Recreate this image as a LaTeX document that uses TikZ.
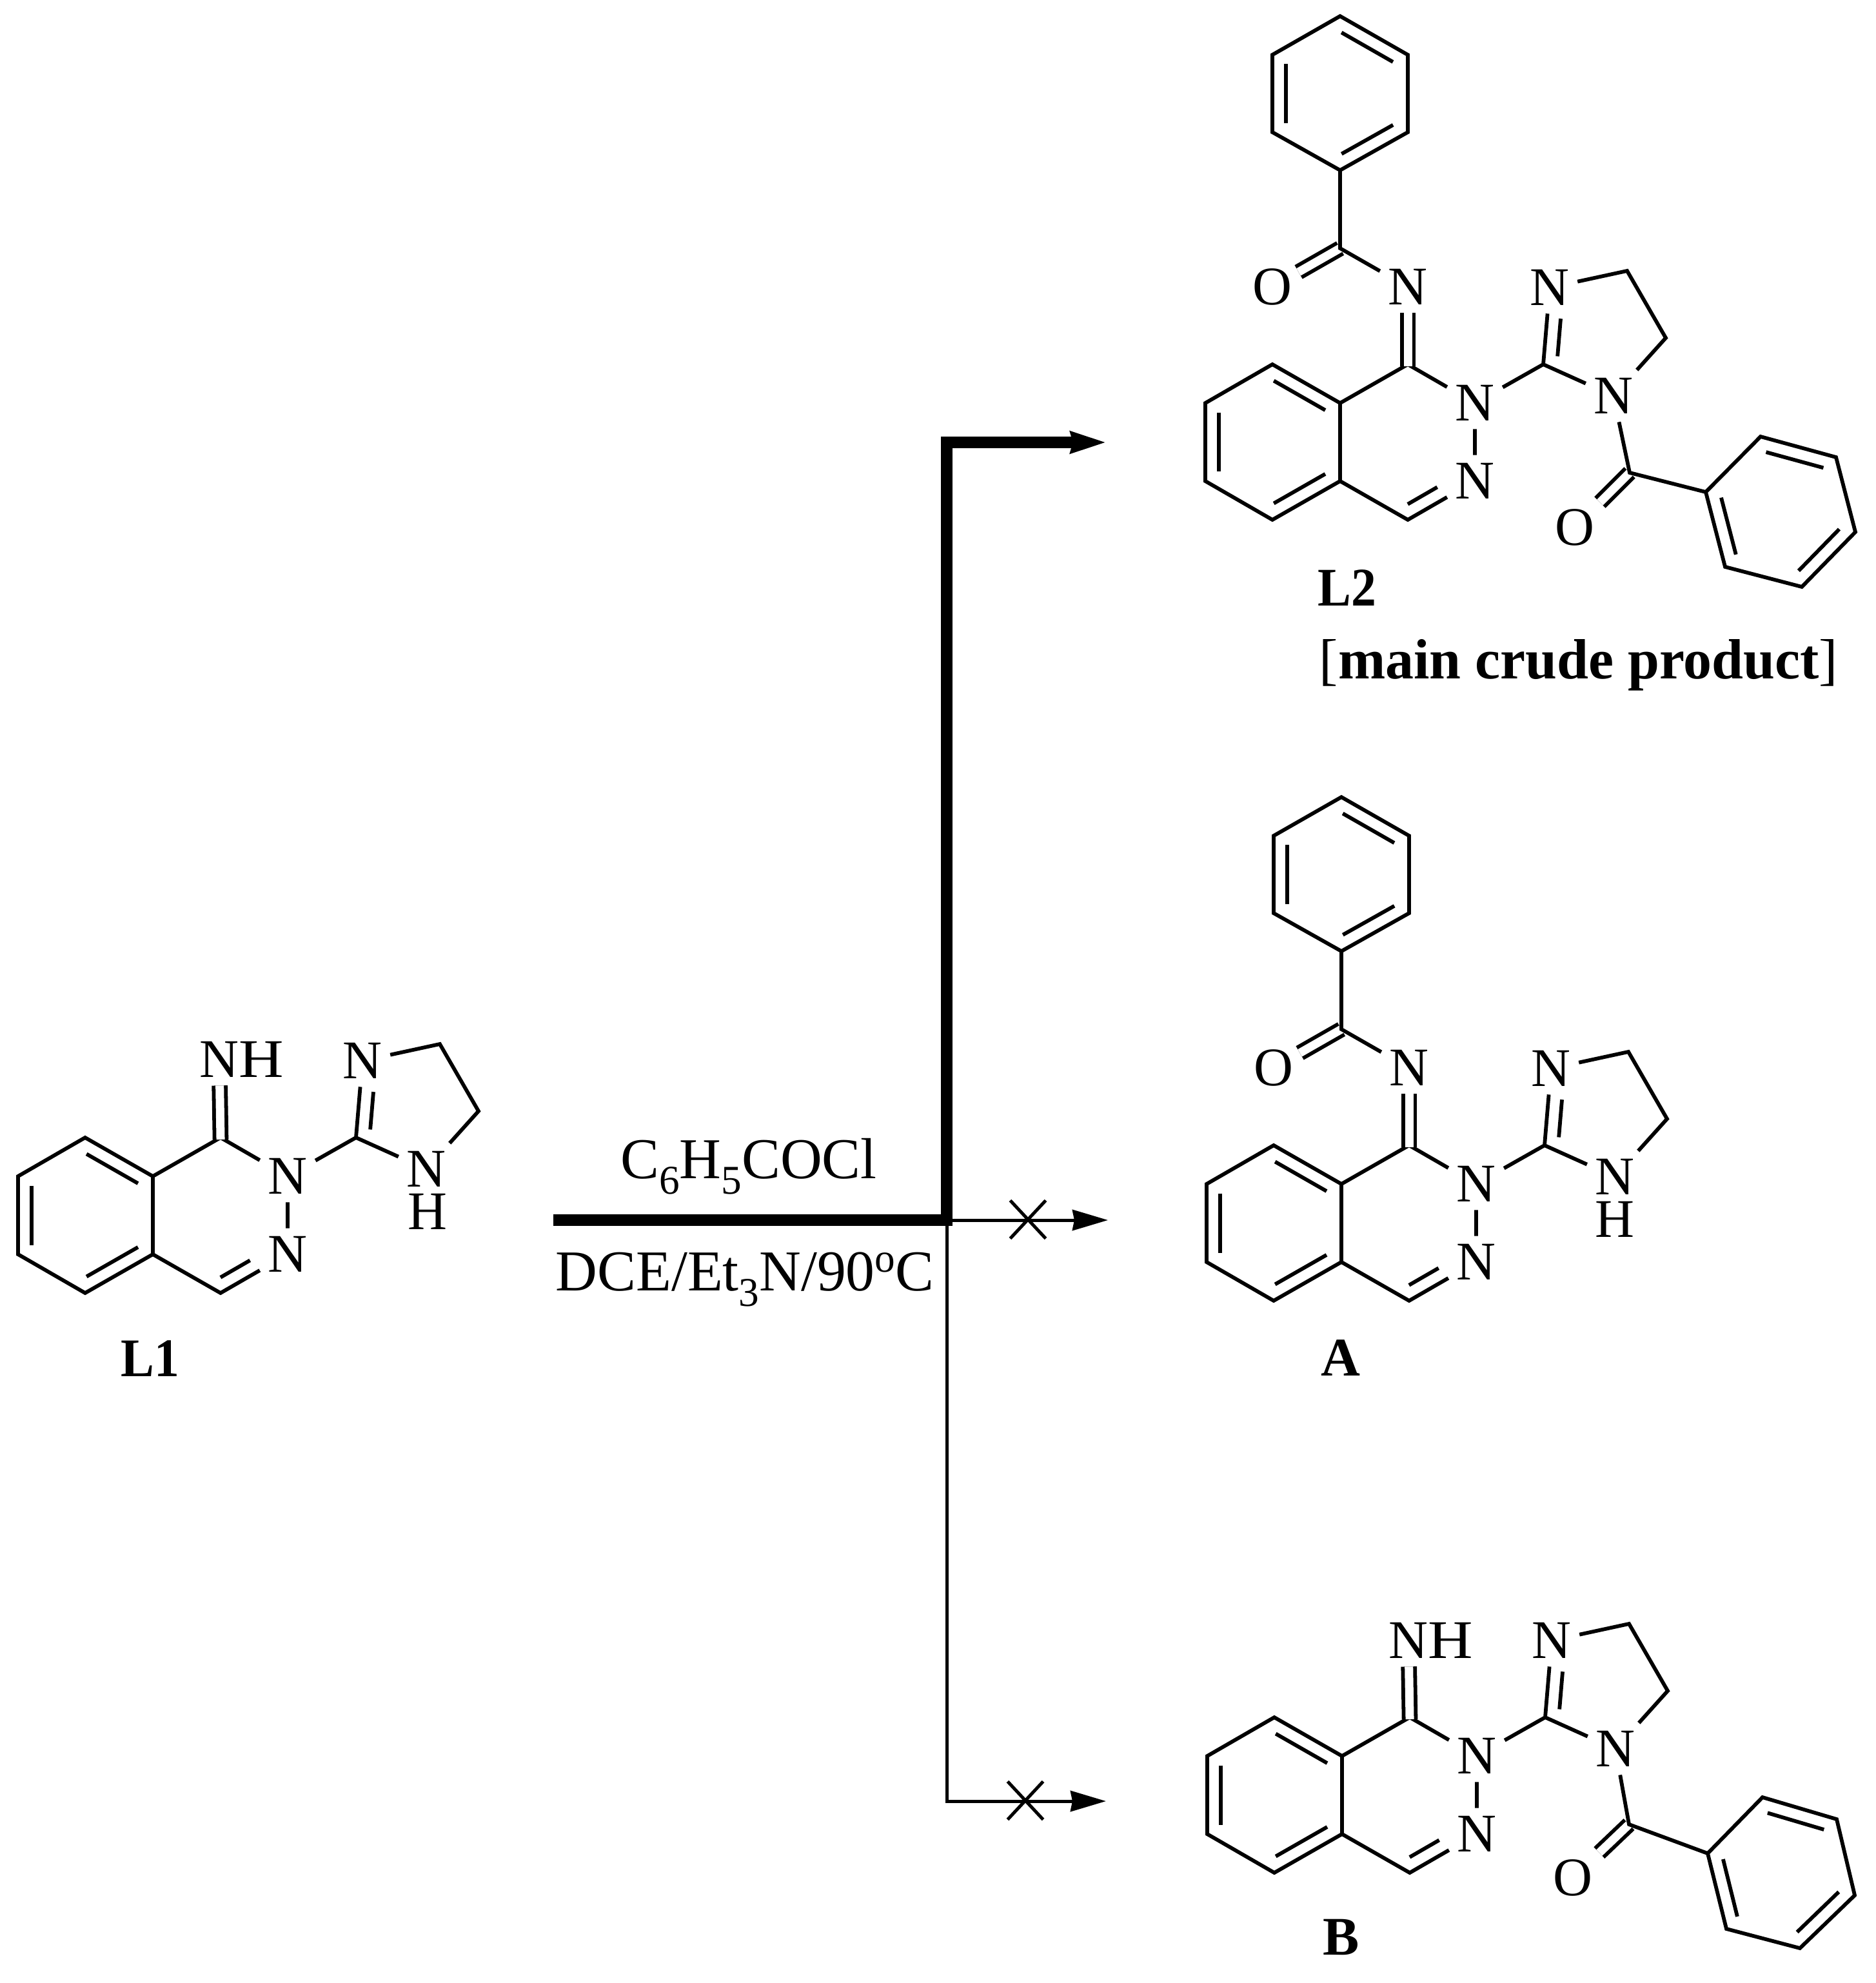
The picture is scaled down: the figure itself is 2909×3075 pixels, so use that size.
\documentclass[tikz,border=0pt]{standalone}
\usepackage{fontspec}
\setmainfont{Liberation Serif}
\usetikzlibrary{arrows.meta}
\usetikzlibrary{calc}
\usetikzlibrary{shapes.misc}

\tikzset{
  bond/.style={line width=0.058cm, line join=miter},
  dbl/.style={double, double distance=0.13cm, shorten >=-0.03cm},
  atom/.style={inner sep=0.12cm, font=\fontsize{24}{28}\selectfont},
  tag/.style={inner sep=0pt, font=\fontsize{24}{28}\selectfont\bfseries},
  reagent/.style={inner sep=0pt, anchor=base, font=\fontsize{25.5}{30}\selectfont},
  heavy/.style={line width=0.18cm},
  light/.style={line width=0.05cm},
  tipped/.style={-{Stealth[length=0.55cm, width=0.32cm, inset=0.03cm]}},
  nogo/.style={draw, cross out, line width=0.05cm, inner sep=0pt, minimum width=0.5cm, minimum height=0.54cm}
}

\begin{document}
\begin{tikzpicture}[x=0.01cm, y=-0.01cm]
      \def\inbond#1#2#3#4{\draw[bond] ($(#1)!#3!(#2)!0.21cm!90:(#2)$) -- ($(#1)!#4!(#2)!0.21cm!90:(#2)$);}

      \def\phenylring{
        \draw[bond] (p1) -- (p2) -- (p3) -- (p4) -- (p5) -- (p6) -- cycle;
        \inbond{p1}{p2}{.12}{.88}
        \inbond{p3}{p4}{.12}{.88}
        \inbond{p5}{p6}{.12}{.88}
      }

      \def\phthalcore{
        \coordinate (c1) at (0,0);
        \coordinate (s1) at (-105,60);
        \coordinate (s2) at (-210,0);
        \coordinate (s3) at (-314,60);
        \coordinate (s4) at (-314,181);
        \coordinate (s5) at (-210,241);
        \coordinate (s6) at (-105,181);
        \coordinate (c4) at (0,241);
        \coordinate (c9) at (210,0);
        \coordinate (ca) at (340,-145);
        \coordinate (cb) at (400,-41);
        \node[atom] (n2) at (104,60) {N};
        \node[atom] (n3) at (104,181) {N};
        \node[atom] (nb) at (220,-119) {N};
        \node[atom] (nc) at (319,49) {N};
        \draw[bond] (s1) -- (s2) -- (s3) -- (s4) -- (s5) -- (s6) -- cycle;
        \draw[bond] (s1) -- (c1) -- (n2) -- (n3);
        \draw[bond] (n3) -- (c4) -- (s6);
        \draw[bond] (n2) -- (c9) -- (nb) -- (ca) -- (cb) -- (nc) -- (c9);
        \inbond{s3}{s4}{.12}{.88}
        \inbond{s5}{s6}{.12}{.88}
        \inbond{s1}{s2}{.12}{.88}
        \inbond{c4}{n3}{.1}{.54}
        \inbond{nb}{c9}{.39}{.88}
      }

      \def\iminebenzoyl{
        \node[atom] (ni) at (0,-120) {N};
        \node[atom] (ox) at (-210,-120) {O};
        \coordinate (cq) at (-105,-180);
        \coordinate (p1) at (-105,-301);
        \coordinate (p2) at (0,-360);
        \coordinate (p3) at (0,-480);
        \coordinate (p4) at (-105,-540);
        \coordinate (p5) at (-210,-480);
        \coordinate (p6) at (-210,-360);
        \draw[bond,dbl] (ni) -- (c1);
        \draw[bond,dbl] (cq) -- (ox);
        \draw[bond] (ni) -- (cq) -- (p1);
        \phenylring
      }

      \useasboundingbox (0,0) rectangle (2909,3075);

      \begin{scope}[shift={(342,1764)}, name prefix=lone-]
        \phthalcore
        \node[atom] (ni) at (-2,-121) {N\rlap{\scalebox{1.14}[1]{H}}};
        \node[atom] (hc) at (321,115) {H};
        \draw[bond,dbl] (ni) -- (c1);
      \end{scope}
      \node[tag] (lone) at (233,2107) {\scalebox{.92}[1]{L1}};

      \begin{scope}[shift={(2183,565)}, name prefix=ltwo-]
        \phthalcore
        \iminebenzoyl
        \node[atom] (oz) at (259,253) {O};
        \coordinate (cz) at (344,168);
        \coordinate (p1) at (462,198);
        \coordinate (p2) at (492,314);
        \coordinate (p3) at (611,345);
        \coordinate (p4) at (694,260);
        \coordinate (p5) at (664,144);
        \coordinate (p6) at (547,112);
        \draw[bond,dbl] (cz) -- (oz);
        \draw[bond] (nc) -- (cz) -- (p1);
        \phenylring
      \end{scope}
      \node[tag] (ltwo) at (2089,912) {\scalebox{.92}[1]{L2}};
      \node[tag, anchor=base west, font=\fontsize{25}{29}\selectfont] (crude) at (2045,1052) {[{\bfseries main crude product}]};

      \begin{scope}[shift={(2185,1776)}, name prefix=proda-]
        \phthalcore
        \iminebenzoyl
        \node[atom] (hc) at (319,115) {H};
      \end{scope}
      \node[tag] (aname) at (2079,2106) {A};

      \begin{scope}[shift={(2186,2663)}, name prefix=prodb-]
        \phthalcore
        \node[atom] (ni) at (-2,-119) {N\rlap{\scalebox{1.14}[1]{H}}};
        \node[atom] (oz) at (253,249) {O};
        \coordinate (cz) at (340,166);
        \coordinate (p1) at (462,211);
        \coordinate (p2) at (491,328);
        \coordinate (p3) at (605,358);
        \coordinate (p4) at (690,276);
        \coordinate (p5) at (662,158);
        \coordinate (p6) at (547,124);
        \draw[bond,dbl] (ni) -- (c1);
        \draw[bond,dbl] (cz) -- (oz);
        \draw[bond] (nc) -- (cz) -- (p1);
        \phenylring
      \end{scope}
      \node[tag] (bname) at (2080,3004) {B};

      \coordinate (feed) at (858,1892);
      \coordinate (hub) at (1468,1892);
      \coordinate (upper) at (1468,686);
      \coordinate (lower) at (1468,2793);
      \coordinate (endtwo) at (1716,686);
      \coordinate (enda) at (1718,1892);
      \coordinate (endb) at (1715,2793);

      \draw[light,tipped] (hub) -- (enda);
      \draw[light,tipped] (hub) -- (lower) -- (endb);
      \draw[heavy,tipped] (feed) -- (hub) -- (upper) -- (endtwo);
      \node[nogo] (stopa) at (1594,1891) {};
      \node[nogo] (stopb) at (1590,2792) {};

      \node[reagent] (rgtop) at (1161,1827) {C\raisebox{-7pt}{\fontsize{18}{18}\selectfont 6}H\raisebox{-7pt}{\fontsize{18}{18}\selectfont 5}COCl};
      \node[reagent] (rgbot) at (1155,2001) {DCE/Et\raisebox{-7pt}{\fontsize{18}{18}\selectfont 3}N/90\raisebox{8pt}{\fontsize{18}{18}\selectfont o}C};

    \end{tikzpicture}
\end{document}
